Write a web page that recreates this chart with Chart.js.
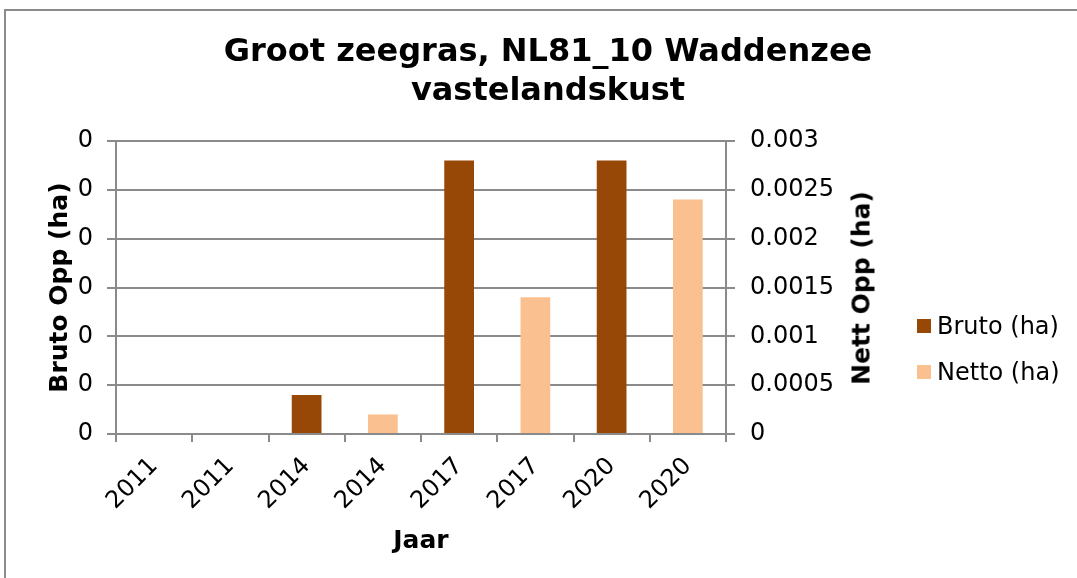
<!DOCTYPE html>
<html>
<head>
<meta charset="utf-8">
<script src="https://cdn.jsdelivr.net/npm/chart.js@4.4.1/dist/chart.umd.min.js"></script>
<style>
  html, body { margin: 0; padding: 0; background: #fff; }
  body { width: 1077px; height: 578px; position: relative; overflow: hidden; font-family: "DejaVu Sans", Verdana, sans-serif; }
  #frame { position: absolute; left: 4px; top: 9px; width: 1200px; height: 700px; border: 2px solid #8c8c8c; box-sizing: border-box; }
  #chartTitle { position: absolute; left: 30px; width: 1036px; top: 31px; text-align: center; font-weight: bold; font-size: 32px; line-height: 39px; color: #000; }
  #legend { position: absolute; left: 917px; top: 303px; font-size: 24px; color: #000; }
  .legend-item { display: flex; align-items: center; height: 46px; }
  .legend-box { width: 14px; height: 14px; margin-right: 6px; }
  #rightTitle { position: absolute; left: 861px; top: 288px; transform: translate(-50%, -50%) rotate(-90deg); white-space: nowrap; font-weight: bold; font-size: 25px; color: #000; }
  #chartWrap { position: absolute; left: 0; top: 0; width: 1077px; height: 578px; }
</style>
</head>
<body>
<div id="frame"></div>
<div id="chartWrap"><canvas id="zeegrasChart" width="1077" height="578"></canvas></div>
<div id="chartTitle">Groot zeegras, NL81_10 Waddenzee<br>vastelandskust</div>
<div id="rightTitle">Nett Opp (ha)</div>
<div id="legend"></div>
<script>
const categories  = ['2011', '2011', '2014', '2014', '2017', '2017', '2020', '2020'];
const brutoValues = [0, null, 0.0004, null, 0.0028, null, 0.0028, null];
const nettoValues = [null, 0, null, 0.0002, null, 0.0014, null, 0.0024];
const seriesNames = ['Bruto (ha)', 'Netto (ha)'];
const seriesColors = ['#974706', '#fac090'];

const gridColor = '#8a8a8a';
const fontFamily = '"DejaVu Sans", Verdana, sans-serif';

// legend
document.getElementById('legend').innerHTML = seriesNames.map((name, i) => `
    <div class="legend-item">
        <div class="legend-box" style="background:${seriesColors[i]}"></div>
        <span>${name}</span>
    </div>
`).join('');

const ctx = document.getElementById('zeegrasChart').getContext('2d');
new Chart(ctx, {
    type: 'bar',
    data: {
        labels: categories,
        datasets: [
            {
                label: seriesNames[0],
                data: brutoValues,
                backgroundColor: seriesColors[0],
                yAxisID: 'y',
                grouped: false,
                categoryPercentage: 1,
                barPercentage: 0.39,
            },
            {
                label: seriesNames[1],
                data: nettoValues,
                backgroundColor: seriesColors[1],
                yAxisID: 'y1',
                grouped: false,
                categoryPercentage: 1,
                barPercentage: 0.39,
            }
        ]
    },
    options: {
        responsive: false,
        animation: false,
        devicePixelRatio: 1,
        layout: { padding: { left: 30, right: 192, top: 141, bottom: 10 } },
        plugins: {
            legend: { display: false },
            title: { display: false },
            tooltip: { enabled: false }
        },
        scales: {
            x: {
                grid: { display: true, drawOnChartArea: false, drawTicks: true, tickLength: 8, color: gridColor, lineWidth: 2 },
                border: { display: true, color: gridColor, width: 2 },
                ticks: { color: '#000', font: { family: fontFamily, size: 24 }, minRotation: 45, maxRotation: 45, padding: 10 },
                title: { display: true, text: 'Jaar', color: '#000', font: { family: fontFamily, size: 25, weight: 'bold' }, padding: { top: 0, bottom: 12 } },
                afterFit: (scale) => { scale.height = 134; }
            },
            y: {
                position: 'left',
                min: 0,
                max: 0.003,
                grid: { color: gridColor, lineWidth: 2, tickLength: 9 },
                border: { display: true, color: gridColor, width: 2 },
                ticks: {
                    stepSize: 0.0005,
                    color: '#000',
                    font: { family: fontFamily, size: 24 },
                    padding: 14,
                    callback: (val) => val.toFixed(0)
                },
                title: { display: true, text: 'Bruto Opp (ha)', color: '#000', font: { family: fontFamily, size: 25, weight: 'bold' }, padding: { top: 15, bottom: 0 } },
                afterFit: (scale) => { scale.width = 86; }
            },
            y1: {
                position: 'right',
                min: 0,
                max: 0.003,
                grid: { drawOnChartArea: false, color: gridColor, lineWidth: 2, tickLength: 9 },
                border: { display: true, color: gridColor, width: 2 },
                ticks: {
                    stepSize: 0.0005,
                    color: '#000',
                    font: { family: fontFamily, size: 24 },
                    padding: 15,
                    callback: (val) => String(+val.toFixed(4))
                },
                title: { display: false },
                afterFit: (scale) => { scale.width = 159; }
            }
        }
    }
});
</script>
</body>
</html>
